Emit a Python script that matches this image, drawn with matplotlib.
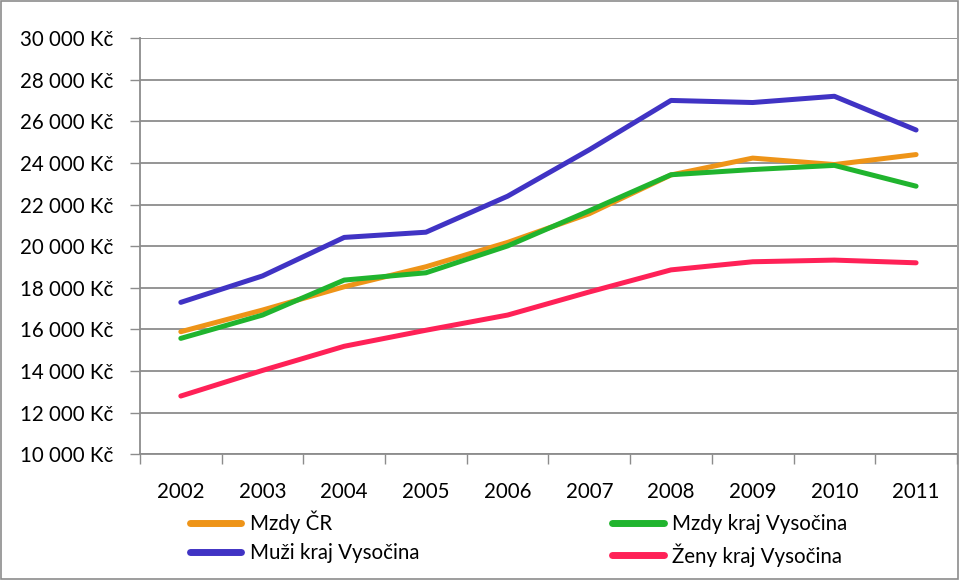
import matplotlib
matplotlib.use("Agg")
import matplotlib.pyplot as plt
from matplotlib.patches import Rectangle
from matplotlib.ticker import FuncFormatter, FixedLocator


years = ["2002", "2003", "2004", "2005", "2006", "2007", "2008", "2009", "2010", "2011"]

mzdy_cr = [15890, 16930, 18050, 19010, 20180, 21560, 23420, 24230, 23920, 24400]
mzdy_vysocina = [15570, 16690, 18370, 18720, 20010, 21700, 23430, 23680, 23880, 22880]
muzi_vysocina = [17300, 18570, 20420, 20670, 22400, 24630, 27000, 26900, 27200, 25580]
zeny_vysocina = [12800, 14030, 15190, 15960, 16690, 17800, 18860, 19250, 19330, 19200]

series = [
    ("Mzdy ČR", mzdy_cr, "#EE9418"),
    ("Mzdy kraj Vysočina", mzdy_vysocina, "#20B42E"),
    ("Muži kraj Vysočina", muzi_vysocina, "#4033C4"),
    ("Ženy kraj Vysočina", zeny_vysocina, "#FF2157"),
]

plt.rcParams["font.family"] = ["Lato", "DejaVu Sans"]
FS = 14.8

fig = plt.figure(figsize=(9.6, 5.8), dpi=100)
ax = fig.add_axes([0.1458, 0.2167, 0.851, 0.7178])

x = list(range(len(years)))
lines = {}
for name, vals, color in series:
    (ln,) = ax.plot(x, vals, color=color, linewidth=3.6, solid_capstyle="round", label=name)
    lines[name] = ln

ax.set_xlim(-0.5, len(years) - 0.5)
ax.set_ylim(10000, 30000)
ax.set_yticks(range(10000, 30001, 2000))
ax.yaxis.set_major_formatter(FuncFormatter(lambda v, p: f"{int(v):,} Kč".replace(",", " ")))
ax.grid(axis="y", color="#8c8c8c", linewidth=1.3)
ax.set_axisbelow(True)

ax.set_xticks(x)
ax.set_xticklabels(years)
ax.xaxis.set_minor_locator(FixedLocator([i - 0.5 for i in range(len(years) + 1)]))
ax.tick_params(axis="x", which="major", length=0, pad=20, labelsize=FS)
ax.tick_params(axis="x", which="minor", length=7, color="#8c8c8c", width=1)
ax.tick_params(axis="y", length=7, color="#8c8c8c", width=1, labelsize=FS, pad=12)

for side in ["top", "right"]:
    ax.spines[side].set_visible(False)
for side in ["left", "bottom"]:
    ax.spines[side].set_color("#8c8c8c")
    ax.spines[side].set_linewidth(1.3)

order = ["Mzdy ČR", "Muži kraj Vysočina", "Mzdy kraj Vysočina", "Ženy kraj Vysočina"]
leg = fig.legend(
    [lines[n] for n in order],
    order,
    ncol=2,
    loc="upper left",
    bbox_to_anchor=(0.198, 0.12),
    frameon=False,
    fontsize=FS,
    handlelength=2.5,
    handletextpad=0.4,
    columnspacing=9.4,
    labelspacing=0.45,
    borderaxespad=0,
    borderpad=0,
)
for h in leg.legend_handles:
    h.set_linewidth(5)

fig.patches.append(Rectangle((0.001, 0.001), 0.997, 0.997, transform=fig.transFigure,
                             fill=False, edgecolor="#8c8c8c", linewidth=1.2))

fig.savefig("out.png", dpi=100)
